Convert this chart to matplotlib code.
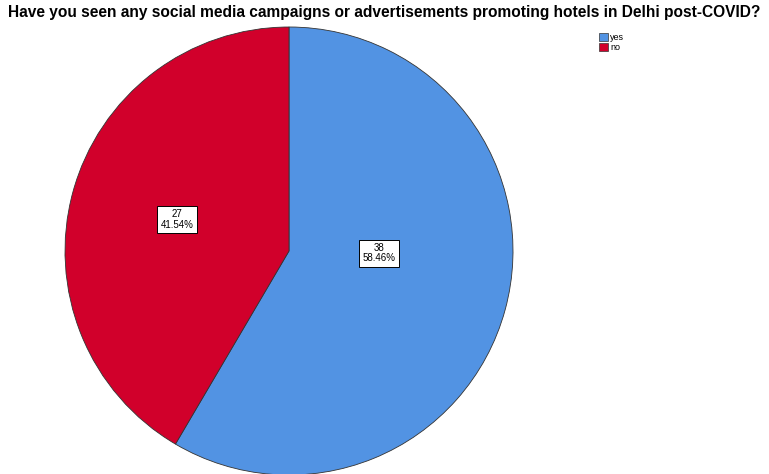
import numpy as np
import matplotlib.pyplot as plt
from matplotlib.patches import Patch

# responses
labels = ['yes', 'no']
counts = [38, 27]
colors = ['#5293E3', '#D1002B']

title = 'Have you seen any social media campaigns or advertisements promoting hotels in Delhi post-COVID?'

W, H = 769, 474
fig = plt.figure(figsize=(W / 100, H / 100), dpi=100)
ax = fig.add_axes([0, 0, 1, 1])

cx, cy, r = 289, H - 251, 224
wedges, _ = ax.pie(counts, colors=colors, startangle=90, counterclock=False,
                   center=(cx, cy), radius=r, frame=True,
                   wedgeprops=dict(edgecolor='#333333', linewidth=0.6))
ax.set_xlim(0, W)
ax.set_ylim(0, H)
ax.set_aspect('equal')
ax.axis('off')

total = sum(counts)
# label offsets in radius units
offsets = [(0.40, -0.01), (-0.50, 0.14)]
for n, (dx, dy) in zip(counts, offsets):
    ax.text(cx + dx * r, cy + dy * r, f'{n}\n{n / total * 100:.2f}%',
            ha='center', va='center', fontsize=7, family='Liberation Sans',
            linespacing=1.05,
            bbox=dict(boxstyle='square,pad=0.35', fc='white', ec='black', lw=0.7))

fig.text(0.5, 1 - 12 / H, title, ha='center', va='center', fontsize=11.2,
         fontweight='bold', family='Liberation Sans')

handles = [Patch(facecolor=c, edgecolor='#333333', linewidth=0.5) for c in colors]
fig.legend(handles, labels, loc='upper left', bbox_to_anchor=(594 / W, 1 - 28 / H),
           frameon=False, handlelength=1.0, handleheight=1.0,
           handletextpad=0.3, labelspacing=0.15, borderpad=0,
           prop=dict(family='Liberation Sans', size=6.5))

fig.savefig('out.png', dpi=100)
